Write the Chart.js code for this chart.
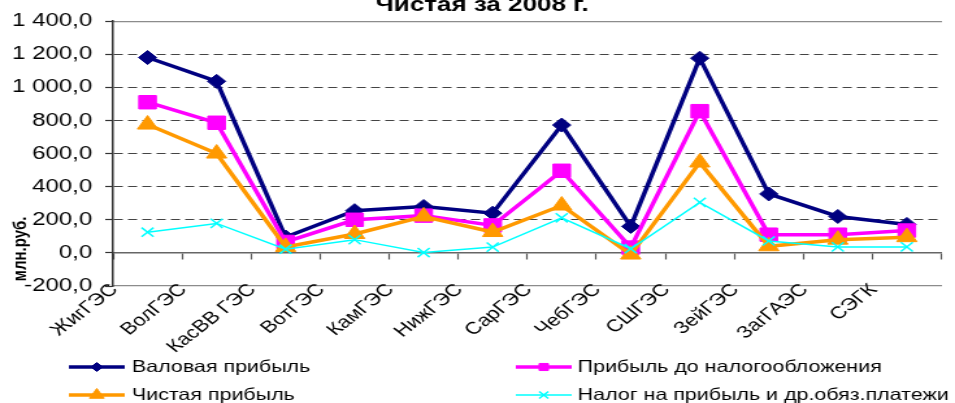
<!DOCTYPE html>
<html><head><meta charset="utf-8">
<script src="https://cdn.jsdelivr.net/npm/chart.js@4.4.1/dist/chart.umd.min.js"></script>
<style>
html,body{margin:0;padding:0;background:#fff;overflow:hidden;width:955px;height:403px;}
#wrap{position:absolute;left:0;top:0;width:735px;height:403px;transform:scale(1.2993,1);transform-origin:0 0;}
canvas{display:block;}
</style></head><body>
<div id="wrap"><canvas id="c" width="735" height="403"></canvas></div>
<script>
const categories = ['ЖигГЭС','ВолГЭС','КасВВ ГЭС','ВотГЭС','КамГЭС','НижГЭС','СарГЭС','ЧебГЭС','СШГЭС','ЗейГЭС','ЗагГАЭС','СЭГК'];
const grossProfit     = [1180, 1036, 96, 255, 280, 240, 772, 160, 1176, 356, 220, 172];
const profitBeforeTax = [910, 786, 66, 200, 225, 166, 496, 32, 856, 110, 110, 135];
const netProfit       = [775, 600, 36, 114, 220, 126, 286, -10, 546, 40, 80, 95];
const taxPayments     = [125, 178, 22, 80, 2, 35, 212, 25, 305, 72, 36, 36];
const seriesNames = ['Валовая прибыль','Прибыль до налогообложения','Чистая прибыль','Налог на прибыль и др.обяз.платежи'];
const titleText = 'Чистая за 2008 г.';
const yAxisTitle = 'млн.руб.';
const yMin = -200, yMax = 1400, yStep = 200;

const FONT = "'Liberation Sans', Arial, sans-serif";

function fmt(v){
  const neg = v < 0;
  const s = Math.abs(v).toFixed(1);
  let [i, d] = s.split('.');
  i = i.replace(/\B(?=(\d{3})+(?!\d))/g, ' ');
  return (neg ? '-' : '') + i + ',' + d;
}

const legendRadii = [4.5, 5, 6.5, 5];

const yTitlePlugin = {
  id: 'yTitle',
  afterDraw(chart){
    const ctx = chart.ctx;
    const y0 = chart.scales.y.getPixelForValue(0) - 4;
    ctx.save();
    ctx.translate(15.4, y0);
    ctx.rotate(-Math.PI/2);
    ctx.font = 'bold 15px ' + FONT;
    ctx.fillStyle = '#000';
    ctx.textAlign = 'center';
    ctx.textBaseline = 'middle';
    ctx.fillText(yAxisTitle, 0, 0);
    ctx.restore();
  }
};

const legendPlugin = {
  id: 'customLegend',
  afterDraw(chart){
    const ctx = chart.ctx;
    const cols = [{x0:53, x1:96, tx:101.5}, {x0:397, x1:440, tx:444.6}];
    const rows = [367, 395];
    chart.data.datasets.forEach((ds, i) => {
      const c = cols[i % 2], y = rows[Math.floor(i / 2)];
      ctx.save();
      ctx.strokeStyle = ds.borderColor;
      ctx.lineWidth = ds.borderWidth;
      ctx.beginPath(); ctx.moveTo(c.x0, y); ctx.lineTo(c.x1, y); ctx.stroke();
      ctx.fillStyle = ds.pointBackgroundColor;
      ctx.strokeStyle = ds.pointBorderColor;
      ctx.lineWidth = ds.pointBorderWidth;
      Chart.helpers.drawPoint(ctx, {pointStyle: ds.pointStyle, radius: legendRadii[i], borderWidth: ds.pointBorderWidth, rotation: 0}, (c.x0 + c.x1) / 2, y);
      ctx.font = '16.5px ' + FONT;
      ctx.fillStyle = '#000';
      ctx.textAlign = 'left';
      ctx.textBaseline = 'middle';
      ctx.fillText(ds.label, c.tx, y);
      ctx.restore();
    });
  }
};

function mkSet(label, data, color, style, radius, width, order){
  return {label, data, borderColor: color, backgroundColor: color, pointBackgroundColor: color,
    pointBorderColor: color, pointBorderWidth: style === 'crossRot' ? 1.5 : 1, borderWidth: width,
    pointStyle: style, pointRadius: radius, pointHoverRadius: radius, tension: 0, fill: false, order};
}

new Chart(document.getElementById('c'), {
  type: 'line',
  data: {
    labels: categories,
    datasets: [
      mkSet(seriesNames[0], grossProfit, '#000080', 'rectRot', 7, 3.5, 4),
      mkSet(seriesNames[1], profitBeforeTax, '#FF00FF', 'rect', 9.5, 3.5, 3),
      mkSet(seriesNames[2], netProfit, '#FF9900', 'triangle', 9, 3.5, 2),
      mkSet(seriesNames[3], taxPayments, '#00FFFF', 'crossRot', 6.5, 1.5, 1)
    ]
  },
  options: {
    responsive: false,
    animation: false,
    devicePixelRatio: 1,
    layout: {padding: {left: 9, right: 2, top: 0, bottom: 117}},
    plugins: {
      legend: {display: false},
      tooltip: {enabled: false},
      title: {display: true, text: titleText, color: '#000', font: {family: FONT, size: 20, weight: 'bold'}, padding: {top: -8, bottom: 4}}
    },
    scales: {
      x: {
        type: 'category',
        position: {y: 0},
        offset: true,
        grid: {offset: true, drawOnChartArea: false, drawTicks: true, tickLength: 6, tickColor: '#555', tickWidth: 1.2},
        border: {display: true, color: '#666', width: 1.5},
        ticks: {autoSkip: false, minRotation: 45, maxRotation: 45, labelOffset: -25.5, padding: 21, color: '#000', font: {family: FONT, size: 17}},
        afterFit(s){ s.height = 0; s.paddingLeft = 0; s.paddingRight = 0; }
      },
      y: {
        type: 'linear',
        min: yMin, max: yMax,
        ticks: {stepSize: yStep, callback: fmt, color: '#000', font: {family: FONT, size: 18.5}, padding: 10},
        grid: {
          color(c){ const v = c.tick && c.tick.value; return (v === 0 || v === yMin || v === yMax) ? 'rgba(0,0,0,0)' : '#444'; },
          lineWidth: 1, tickColor: '#333', tickLength: 6, tickWidth: 1.2, drawTicks: true
        },
        border: {display: true, color: '#333', width: 1.5, dash: [7, 4]},
        afterFit(s){ s.width = 78; }
      },
      y2: {
        type: 'linear',
        position: 'right',
        min: yMin, max: yMax,
        ticks: {display: false, stepSize: yStep},
        grid: {
          drawTicks: false,
          color(c){ const v = c.tick && c.tick.value; return (v === yMin || v === yMax) ? '#8c8c8c' : 'rgba(0,0,0,0)'; },
          lineWidth: 1.2
        },
        border: {display: false},
        afterFit(s){ s.width = 0; }
      }
    }
  },
  plugins: [yTitlePlugin, legendPlugin]
});
</script>
</body></html>
